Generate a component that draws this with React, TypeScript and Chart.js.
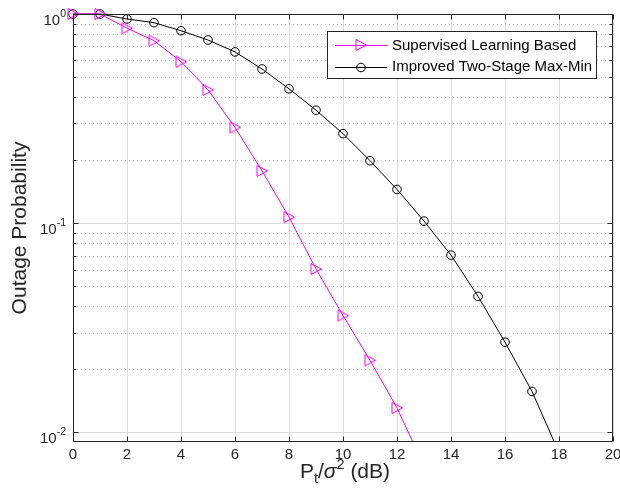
import React, { useEffect, useRef } from "react";
import { Chart, registerables } from "chart.js";

Chart.register(...registerables);

// ---- data ----
const snrDb = [0, 1, 2, 3, 4, 5, 6, 7, 8, 9, 10, 11, 12, 13, 14, 15, 16, 17, 18];
const supervisedLearning = [
  1.0, 1.0, 0.855, 0.746, 0.592, 0.434, 0.287, 0.178, 0.107, 0.0604, 0.0362,
  0.0221, 0.0131, 0.0069,
];
const improvedTwoStage = [
  1.0, 1.0, 0.9465, 0.909, 0.832, 0.751, 0.659, 0.546, 0.439, 0.347, 0.268,
  0.199, 0.145, 0.1024, 0.0704, 0.0447, 0.027, 0.0157, 0.008,
];
const seriesLabels = ["Supervised Learning Based", "Improved Two-Stage Max-Min"];
const xTicks = [0, 2, 4, 6, 8, 10, 12, 14, 16, 18, 20];
const xTickLabels = ["0", "2", "4", "6", "8", "10", "12", "14", "16", "18", "20"];
const yMajorTicks = [1, 0.1, 0.01];
const yMajorExponents = ["0", "-1", "-2"];
const yMinorTicks = [
  0.02, 0.03, 0.04, 0.05, 0.06, 0.07, 0.08, 0.09, 0.2, 0.3, 0.4, 0.5, 0.6, 0.7,
  0.8, 0.9,
];
const yAxisTitle = "Outage Probability";

const AXIS = "#262626";
const FONT = '"Liberation Sans", Arial, Helvetica, sans-serif';
const MAGENTA = "#ff00ff";

function makeTriangle(): HTMLCanvasElement {
  const c = document.createElement("canvas");
  c.width = 14;
  c.height = 14;
  const g = c.getContext("2d")!;
  g.strokeStyle = MAGENTA;
  g.lineWidth = 1;
  g.beginPath();
  g.moveTo(2, 1.5);
  g.lineTo(12.5, 7);
  g.lineTo(2, 12.5);
  g.closePath();
  g.stroke();
  return c;
}

const crisp = (v: number) => Math.round(v) + 0.5;

function drawTenPower(ctx: CanvasRenderingContext2D, exp: string, rightX: number, tickY: number) {
  ctx.font = `15px ${FONT}`;
  const wBase = ctx.measureText("10").width;
  ctx.font = `10.5px ${FONT}`;
  const wExp = ctx.measureText(exp).width;
  const startX = rightX - wBase - wExp;
  ctx.textAlign = "left";
  ctx.textBaseline = "alphabetic";
  ctx.font = `15px ${FONT}`;
  ctx.fillText("10", startX, tickY + 10.5);
  ctx.font = `10.5px ${FONT}`;
  ctx.fillText(exp, startX + wBase, tickY + 2.5);
}

function makePlugin(triangle: HTMLCanvasElement) {
  return {
    id: "matlabAxes",
    beforeDatasetsDraw(chart: any) {
      const { ctx, chartArea: a, scales } = chart;
      const xs = scales.x;
      const ys = scales.y;
      ctx.save();
      ctx.lineWidth = 1;
      ctx.strokeStyle = "#dcdcdc";
      ctx.beginPath();
      for (const t of xTicks) {
        const p = crisp(xs.getPixelForValue(t));
        ctx.moveTo(p, a.top);
        ctx.lineTo(p, a.bottom);
      }
      for (const t of yMajorTicks) {
        const p = crisp(ys.getPixelForValue(t));
        ctx.moveTo(a.left, p);
        ctx.lineTo(a.right, p);
      }
      ctx.stroke();
      ctx.setLineDash([1, 3]);
      ctx.strokeStyle = "#c2c2c2";
      ctx.beginPath();
      for (const t of yMinorTicks) {
        const p = crisp(ys.getPixelForValue(t));
        ctx.moveTo(a.left, p);
        ctx.lineTo(a.right, p);
      }
      ctx.stroke();
      ctx.restore();
    },
    afterDatasetsDraw(chart: any) {
      const { ctx, chartArea: a, scales } = chart;
      const xs = scales.x;
      const ys = scales.y;
      const L = crisp(a.left);
      const R = crisp(a.right) - 1;
      const T = crisp(a.top);
      const B = crisp(a.bottom) - 1;
      ctx.save();
      ctx.strokeStyle = AXIS;
      ctx.fillStyle = AXIS;
      ctx.lineWidth = 1;
      ctx.beginPath();
      ctx.rect(L, T, R - L, B - T);
      for (const t of xTicks) {
        const p = crisp(xs.getPixelForValue(t));
        ctx.moveTo(p, B);
        ctx.lineTo(p, B - 5);
        ctx.moveTo(p, T);
        ctx.lineTo(p, T + 5);
      }
      for (const t of yMajorTicks) {
        const p = crisp(ys.getPixelForValue(t));
        ctx.moveTo(L, p);
        ctx.lineTo(L + 5, p);
        ctx.moveTo(R, p);
        ctx.lineTo(R - 5, p);
      }
      for (const t of yMinorTicks) {
        const p = crisp(ys.getPixelForValue(t));
        ctx.moveTo(L, p);
        ctx.lineTo(L + 3, p);
        ctx.moveTo(R, p);
        ctx.lineTo(R - 3, p);
      }
      ctx.stroke();

      // x tick labels
      ctx.font = `15px ${FONT}`;
      ctx.textAlign = "center";
      ctx.textBaseline = "alphabetic";
      xTicks.forEach((t, i) => {
        ctx.fillText(xTickLabels[i], xs.getPixelForValue(t), a.bottom + 16.5);
      });
      // y tick labels
      yMajorTicks.forEach((t, i) => {
        drawTenPower(ctx, yMajorExponents[i], a.left - 7, ys.getPixelForValue(t));
      });

      // y title
      ctx.save();
      ctx.translate(26, 228);
      ctx.rotate(-Math.PI / 2);
      ctx.font = `21px ${FONT}`;
      ctx.textAlign = "center";
      ctx.textBaseline = "alphabetic";
      ctx.fillText(yAxisTitle, 0, 0);
      ctx.restore();

      // x title: P_t / sigma^2 (dB)
      const parts = [
        { s: "P", f: `21px ${FONT}`, dy: 0 },
        { s: "t", f: `14.5px ${FONT}`, dy: 5 },
        { s: "/", f: `21px ${FONT}`, dy: 0 },
        { s: "\u03c3", f: `italic 21px ${FONT}`, dy: 0 },
        { s: "2", f: `14.5px ${FONT}`, dy: -9 },
        { s: " (dB)", f: `21px ${FONT}`, dy: 0 },
      ];
      let total = 0;
      const widths = parts.map((p) => {
        ctx.font = p.f;
        const w = ctx.measureText(p.s).width;
        total += w;
        return w;
      });
      let cx = (a.left + a.right) / 2 - total / 2 + 2;
      ctx.textAlign = "left";
      parts.forEach((p, i) => {
        ctx.font = p.f;
        ctx.fillText(p.s, cx, 478 + p.dy);
        cx += widths[i];
      });

      // legend
      const lx0 = 327.5;
      const ly0 = 31.5;
      const lx1 = 596.5;
      const ly1 = 78.5;
      ctx.fillStyle = "#ffffff";
      ctx.fillRect(lx0, ly0, lx1 - lx0, ly1 - ly0);
      ctx.strokeStyle = AXIS;
      ctx.strokeRect(lx0, ly0, lx1 - lx0, ly1 - ly0);
      const rows = [45, 66.5];
      chart.data.datasets.forEach((ds: any, i: number) => {
        const y = Math.round(rows[i]) + 0.5;
        ctx.strokeStyle = ds.borderColor;
        ctx.lineWidth = 1;
        ctx.beginPath();
        ctx.moveTo(335, y);
        ctx.lineTo(387, y);
        ctx.stroke();
        if (i === 0) {
          ctx.drawImage(triangle, 361 - 7, y - 7.5);
        } else {
          ctx.beginPath();
          ctx.arc(361, y, 4.3, 0, Math.PI * 2);
          ctx.stroke();
        }
        ctx.fillStyle = "#000000";
        ctx.font = `15px ${FONT}`;
        ctx.textAlign = "left";
        ctx.textBaseline = "middle";
        ctx.fillText(ds.label, 392, rows[i] + 0.5);
      });
      ctx.restore();
    },
  };
}

export default function App() {
  const ref = useRef<HTMLCanvasElement | null>(null);
  useEffect(() => {
    if (!ref.current) return;
    const triangle = makeTriangle();
    const chart = new Chart(ref.current, {
      type: "line",
      data: {
        datasets: [
          {
            label: seriesLabels[0],
            data: supervisedLearning.map((v, i) => ({ x: snrDb[i], y: v })),
            borderColor: MAGENTA,
            backgroundColor: MAGENTA,
            borderWidth: 1,
            pointStyle: triangle as any,
            pointRadius: 6,
            pointBorderColor: MAGENTA,
            pointBackgroundColor: "rgba(0,0,0,0)",
            tension: 0,
            clip: { left: 12, top: 12, right: 0, bottom: 0 } as any,
          },
          {
            label: seriesLabels[1],
            data: improvedTwoStage.map((v, i) => ({ x: snrDb[i], y: v })),
            borderColor: "#000000",
            backgroundColor: "#000000",
            borderWidth: 1,
            pointStyle: "circle",
            pointRadius: 4.3,
            pointBorderWidth: 1,
            pointBorderColor: "#000000",
            pointBackgroundColor: "rgba(0,0,0,0)",
            tension: 0,
            clip: { left: 12, top: 12, right: 0, bottom: 0 } as any,
          },
        ],
      },
      options: {
        animation: false,
        responsive: false,
        events: [],
        layout: { padding: { left: 73, top: 14, right: 7, bottom: 52 } },
        scales: {
          x: { type: "linear", min: 0, max: 20, display: false },
          y: { type: "logarithmic", min: 0.009, max: 1, display: false },
        },
        plugins: {
          legend: { display: false },
          tooltip: { enabled: false },
        },
      },
      plugins: [makePlugin(triangle)],
    });
    return () => chart.destroy();
  }, []);
  return (
    <div style={{ position: "absolute", left: 0, top: 0, width: 620, height: 494, background: "#fff" }}>
      <canvas ref={ref} width={620} height={494} style={{ width: 620, height: 494 }} />
    </div>
  );
}
